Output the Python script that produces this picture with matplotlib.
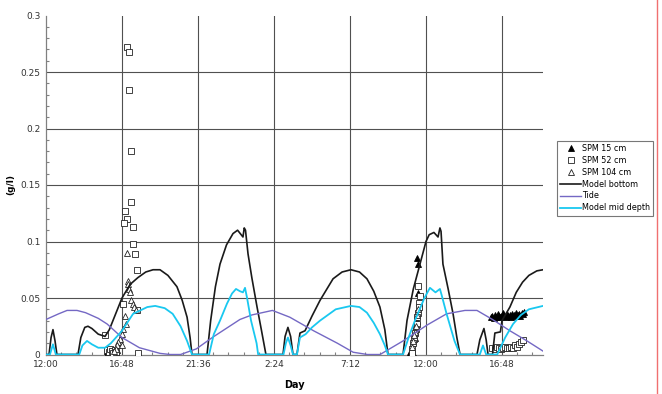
import matplotlib
matplotlib.use("Agg")
import matplotlib.pyplot as plt
from matplotlib.lines import Line2D
from matplotlib.ticker import MultipleLocator, FixedLocator

# ---- data (x in hours after 12:00 of day 1) ----
tick_pos = [0, 4.8, 9.6, 14.4, 19.2, 24.0, 28.8]
tick_labels = ["12:00", "16:48", "21:36", "2:24", "7:12", "12:00", "16:48"]

bottom_h = [0, 0.19, 0.32, 0.44, 0.57, 0.69, 2.02, 2.2, 2.45, 2.65, 2.9, 3.3, 3.73, 4.0, 4.4, 4.8,
            5.31, 5.8, 6.3, 6.76, 7.2, 7.7, 8.27, 8.6, 8.91, 9.1, 9.22,
            10.17, 10.4, 10.7, 10.99, 11.4, 11.81, 12.1, 12.44, 12.52, 12.6, 12.76, 13.0, 13.33, 13.6, 13.89,
            14.97, 15.1, 15.28, 15.45, 15.6, 15.85, 16.04, 16.36, 16.8, 17.31, 18.13, 18.7, 19.26, 19.8,
            20.27, 20.7, 21.09, 21.4, 21.6,
            22.55, 22.8, 23.2, 23.62, 24.0, 24.2, 24.5, 24.76, 24.88, 24.95, 25.07, 25.4, 25.71, 25.95, 26.15,
            27.22, 27.4, 27.66, 27.8, 27.92, 28.2, 28.35, 28.7, 28.8, 29.3, 29.7, 30.1, 30.5, 31.0, 31.39]
bottom_v = [0, 0, 0.015, 0.022, 0.012, 0, 0, 0.015, 0.024, 0.025, 0.023, 0.018, 0.016, 0.022, 0.036, 0.05,
            0.062, 0.068, 0.073, 0.075, 0.075, 0.070, 0.060, 0.048, 0.033, 0.015, 0,
            0, 0.03, 0.06, 0.08, 0.097, 0.107, 0.110, 0.104, 0.112, 0.110, 0.089, 0.068, 0.042, 0.022, 0,
            0, 0.016, 0.024, 0.016, 0, 0, 0.019, 0.021, 0.034, 0.048, 0.067, 0.073, 0.075, 0.073,
            0.067, 0.056, 0.042, 0.022, 0,
            0, 0.03, 0.058, 0.080, 0.100, 0.106, 0.108, 0.104, 0.112, 0.109, 0.080, 0.058, 0.036, 0.015, 0,
            0, 0.013, 0.023, 0.013, 0, 0, 0.019, 0.020, 0.030, 0.042, 0.055, 0.064, 0.070, 0.074, 0.075]

mid_h = [0, 0.25, 0.44, 0.62, 2.1, 2.3, 2.59, 2.9, 3.3, 3.73, 4.1, 4.8, 5.5, 6.4, 6.9, 7.5, 8.0, 8.5, 8.91, 9.22,
         10.3, 10.6, 10.99, 11.43, 11.75, 12.0, 12.25, 12.44, 12.57, 12.7, 12.95, 13.3, 13.4,
         15.0, 15.15, 15.28, 15.45, 15.6, 15.85, 16.04, 16.4, 16.8, 17.31, 18.3, 19.26, 19.8, 20.27, 20.7,
         21.09, 21.4, 21.6,
         22.55, 22.9, 23.3, 23.9, 24.25, 24.6, 24.88, 25.0, 25.3, 25.8, 26.15,
         27.4, 27.6, 27.8, 28.5, 29.0, 29.5, 30.0, 30.5, 31.39]
mid_v = [0, 0, 0.009, 0, 0, 0.008, 0.012, 0.009, 0.006, 0.006, 0.010, 0.021, 0.036, 0.042, 0.043, 0.041, 0.036, 0.025, 0.012, 0,
         0, 0.018, 0.030, 0.045, 0.054, 0.058, 0.056, 0.055, 0.059, 0.050, 0.030, 0.010, 0,
         0, 0.010, 0.015, 0.008, 0, 0, 0.015, 0.018, 0.024, 0.030, 0.040, 0.043, 0.042, 0.037, 0.028,
         0.018, 0.008, 0,
         0, 0.015, 0.030, 0.050, 0.059, 0.055, 0.058, 0.052, 0.036, 0.012, 0,
         0, 0.008, 0, 0, 0.015, 0.027, 0.035, 0.040, 0.043]

tide_h = [0, 0.8, 1.33, 1.96, 2.5, 3.3, 3.86, 4.8, 5.9, 7.2, 7.83, 8.5, 9.5, 10.5, 12.25, 13.0, 14.3,
          15.4, 16.9, 18.4, 19.4, 20.3, 21.1, 22.55, 24.06, 25.3, 26.46, 27.22, 28.2, 29.3, 30.38, 31.39]
tide_v = [0.031, 0.036, 0.039, 0.039, 0.037, 0.032, 0.027, 0.015, 0.006, 0.001, 0, 0, 0.005, 0.015, 0.031, 0.035, 0.039,
          0.033, 0.021, 0.010, 0.002, 0, 0, 0.012, 0.026, 0.036, 0.039, 0.039, 0.031, 0.021, 0.012, 0.003]

spm15_h = [3.85, 3.92, 3.98, 4.05, 4.12, 4.18, 4.25, 4.32, 4.40, 4.48,
           23.0, 23.06, 23.12, 23.18, 23.30, 23.43, 23.49, 23.43, 23.49,
           28.10, 28.20, 28.28, 28.36, 28.45, 28.53, 28.62, 28.70, 28.78, 28.87, 28.95, 29.04, 29.12,
           29.20, 29.29, 29.37, 29.46, 29.54, 29.62, 29.71, 29.79, 29.88, 29.96, 30.05, 30.13, 30.22]
spm15_v = [0.003, 0.002, 0.004, 0.002, 0.003, 0.004, 0.002, 0.003, 0.002, 0.004,
           0.002, 0.0, 0.003, 0.001, 0.015, 0.030, 0.054, 0.085, 0.080,
           0.033, 0.034, 0.032, 0.035, 0.033, 0.036, 0.034, 0.033, 0.035, 0.037, 0.034, 0.033, 0.036,
           0.034, 0.035, 0.033, 0.036, 0.035, 0.034, 0.037, 0.035, 0.036, 0.034, 0.037, 0.036, 0.038]

spm52_h = [5.12, 5.24, 5.24, 5.37, 5.37, 4.99, 5.12, 4.93, 5.49, 5.49, 5.62, 5.75, 4.86, 5.75, 3.73,
           3.85, 3.95, 4.05, 4.15, 4.25, 4.35, 4.45, 5.8,
           23.49, 23.62, 23.56, 23.56, 23.49, 23.43, 23.43, 23.37, 23.30, 23.24, 23.18, 23.12, 23.12,
           28.20, 28.33, 28.46, 28.58, 28.71, 28.84, 28.96, 29.09, 29.22, 29.34, 29.47, 29.60, 29.72,
           29.85, 29.98, 30.10]
spm52_v = [0.272, 0.268, 0.234, 0.180, 0.135, 0.127, 0.120, 0.116, 0.113, 0.098, 0.089, 0.075, 0.045, 0.039, 0.017,
           0.004, 0.002, 0.005, 0.003, 0.001, 0.004, 0.002, 0.001,
           0.061, 0.052, 0.046, 0.042, 0.037, 0.033, 0.027, 0.023, 0.019, 0.014, 0.010, 0.005, 0.001,
           0.006, 0.005, 0.007, 0.006, 0.005, 0.006, 0.007, 0.006, 0.006, 0.007, 0.006, 0.008, 0.007,
           0.009, 0.011, 0.013]

spm104_h = [5.12, 5.18, 5.18, 5.24, 5.31, 5.37, 5.49, 5.56, 5.68, 4.99, 5.05, 4.86, 4.80, 4.67, 4.55,
            4.48, 4.80, 4.42, 4.30,
            23.50, 23.43, 23.37, 23.30, 23.24, 23.18, 23.10]
spm104_v = [0.090, 0.065, 0.062, 0.058, 0.055, 0.048, 0.045, 0.042, 0.039, 0.034, 0.027, 0.023, 0.018, 0.014, 0.011,
            0.008, 0.008, 0.005, 0.003,
            0.040, 0.035, 0.025, 0.020, 0.017, 0.012, 0.007]

# ---- figure ----
fig = plt.figure(figsize=(6.62, 3.94), dpi=100)
ax = fig.add_axes([46 / 662, 1 - 354.5 / 394, (543 - 46) / 662, (354.5 - 15.5) / 394])

grid_c = "#505050"
for yv in [0.05, 0.1, 0.15, 0.2, 0.25]:
    ax.axhline(yv, color=grid_c, lw=0.8, zorder=1)
for xv in tick_pos[1:]:
    ax.axvline(xv, color=grid_c, lw=0.8, zorder=1)

ms = 4.3
ax.plot(spm15_h, spm15_v, linestyle="none", marker="^", markersize=ms, color="black",
        markeredgecolor="black", markeredgewidth=0.6, label="SPM 15 cm", zorder=3)
ax.plot(spm52_h, spm52_v, linestyle="none", marker="s", markersize=ms - 0.3, markerfacecolor="white",
        markeredgecolor="#222222", markeredgewidth=0.6, label="SPM 52 cm", zorder=3)
ax.plot(spm104_h, spm104_v, linestyle="none", marker="^", markersize=ms, markerfacecolor="white",
        markeredgecolor="#222222", markeredgewidth=0.6, label="SPM 104 cm", zorder=3)
ax.plot(bottom_h, bottom_v, color="#1a1a1a", lw=1.2, label="Model bottom", zorder=4)
ax.plot(tide_h, tide_v, color="#7468c4", lw=1.0, label="Tide", zorder=4)
ax.plot(mid_h, mid_v, color="#19c8f0", lw=1.3, label="Model mid depth", zorder=5)

ax.set_xlim(0, 31.39)
ax.set_ylim(0, 0.3)
ax.xaxis.set_major_locator(FixedLocator(tick_pos))
ax.set_xticklabels(tick_labels)
ax.xaxis.set_minor_locator(MultipleLocator(0.96))
ax.yaxis.set_minor_locator(MultipleLocator(0.01))
ax.set_yticks([0, 0.05, 0.1, 0.15, 0.2, 0.25, 0.3])
ax.set_yticklabels(["0", "0.05", "0.1", "0.15", "0.2", "0.25", "0.3"])

for s in ["top", "right"]:
    ax.spines[s].set_visible(False)
for s in ["left", "bottom"]:
    ax.spines[s].set_color("#808080")
    ax.spines[s].set_linewidth(0.9)

ax.tick_params(axis="both", which="major", length=0, labelsize=6.5, labelcolor="#333333", pad=4)
ax.tick_params(axis="both", which="minor", direction="in", length=2.5, color="#808080", width=0.8)

ax.set_xlabel("Day", fontsize=7, fontweight="bold", labelpad=8)
ax.set_ylabel("(g/l)", fontsize=6.5, fontweight="bold", labelpad=4)

leg = fig.legend(loc="upper left", bbox_to_anchor=(557 / 662, 1 - 141 / 394), fontsize=5.8,
                 frameon=True, fancybox=False, edgecolor="#555555", handlelength=2.6,
                 handletextpad=0.1, borderpad=0.4, labelspacing=0.35, borderaxespad=0)
leg.get_frame().set_linewidth(0.8)

fig.add_artist(Line2D([657 / 662, 657 / 662], [0, 1], color="#f07070", lw=1.0))

fig.savefig("out.png", dpi=100)
